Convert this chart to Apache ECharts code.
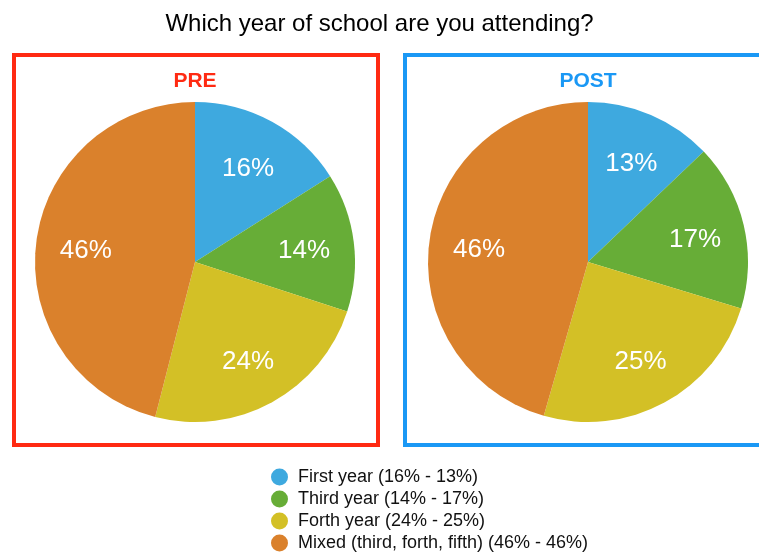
<!DOCTYPE html>
<html lang="en">
<head>
    <meta charset="UTF-8">
    <script src="https://cdn.jsdelivr.net/npm/echarts@6/dist/echarts.min.js"></script>
    <title>Which year of school are you attending?</title>
    <style>
        html, body { margin: 0; padding: 0; background: #fff; }
        #chart { width: 759px; height: 552px; }
    </style>
</head>
<body>
<div id="chart"></div>
<script>
    // data
    var categories = ['First year', 'Third year', 'Forth year', 'Mixed (third, forth, fifth)'];
    var preValues = [16, 14, 24, 46];
    var postValues = [13, 17, 25, 46];
    var sliceColors = ['#3ea9df', '#67ad37', '#d3c026', '#da812c'];

    function toData(values) {
        return categories.map(function (name, i) {
            return { name: name, value: values[i], itemStyle: { color: sliceColors[i] } };
        });
    }

    function pieSeries(values, cx) {
        return {
            type: 'pie',
            center: [cx, 262],
            radius: [0, 160],
            startAngle: 90,
            clockwise: true,
            silent: true,
            label: { show: false },
            labelLine: { show: false },
            data: toData(values)
        };
    }

    // transparent ring only used to put the % labels at ~2/3 of the radius
    function labelSeries(values, cx) {
        return {
            type: 'pie',
            center: [cx, 262],
            radius: [54, 160],
            startAngle: 90,
            clockwise: true,
            silent: true,
            itemStyle: { color: 'rgba(0,0,0,0)' },
            label: {
                show: true,
                position: 'inside',
                formatter: '{c}%',
                color: '#fff',
                fontSize: 26,
                offset: [0, 3],
                fontFamily: 'Liberation Sans, Arial, sans-serif'
            },
            labelLine: { show: false },
            data: categories.map(function (name, i) {
                return { name: name, value: values[i], itemStyle: { color: 'rgba(0,0,0,0)' } };
            })
        };
    }

    var chart = echarts.init(document.getElementById('chart'));
    chart.setOption({
        animation: false,
        backgroundColor: '#fff',
        title: {
            text: 'Which year of school are you attending?',
            left: 'center',
            top: 7,
            textStyle: {
                color: '#000',
                fontSize: 24,
                fontWeight: 'normal',
                fontFamily: 'Liberation Sans, Arial, sans-serif'
            }
        },
        legend: {
            orient: 'vertical',
            left: 266,
            top: 463,
            height: 100,
            icon: 'circle',
            itemWidth: 17,
            itemHeight: 17,
            itemGap: 4,
            selectedMode: false,
            data: categories,
            formatter: function (name) {
                var i = categories.indexOf(name);
                return name + ' (' + preValues[i] + '% - ' + postValues[i] + '%)';
            },
            textStyle: {
                color: '#111',
                fontSize: 18,
                padding: [0, 0, 0, 5],
                fontFamily: 'Liberation Sans, Arial, sans-serif'
            }
        },
        graphic: [
            {
                type: 'rect',
                shape: { x: 14, y: 55, width: 364, height: 390 },
                style: { fill: 'none', stroke: '#ff2a12', lineWidth: 4 },
                z: 0
            },
            {
                type: 'rect',
                shape: { x: 405, y: 55, width: 400, height: 390 },
                style: { fill: 'none', stroke: '#1a98f5', lineWidth: 4 },
                z: 0
            },
            {
                type: 'text',
                x: 195, y: 81,
                style: {
                    text: 'PRE', fill: '#ff2a12', fontSize: 21, fontWeight: 'bold',
                    fontFamily: 'Liberation Sans, Arial, sans-serif',
                    align: 'center', verticalAlign: 'middle'
                }
            },
            {
                type: 'text',
                x: 588, y: 81,
                style: {
                    text: 'POST', fill: '#1a98f5', fontSize: 21, fontWeight: 'bold',
                    fontFamily: 'Liberation Sans, Arial, sans-serif',
                    align: 'center', verticalAlign: 'middle'
                }
            }
        ],
        series: [
            pieSeries(preValues, 195),
            pieSeries(postValues, 588),
            labelSeries(preValues, 195),
            labelSeries(postValues, 588)
        ]
    });
</script>
</body>
</html>
